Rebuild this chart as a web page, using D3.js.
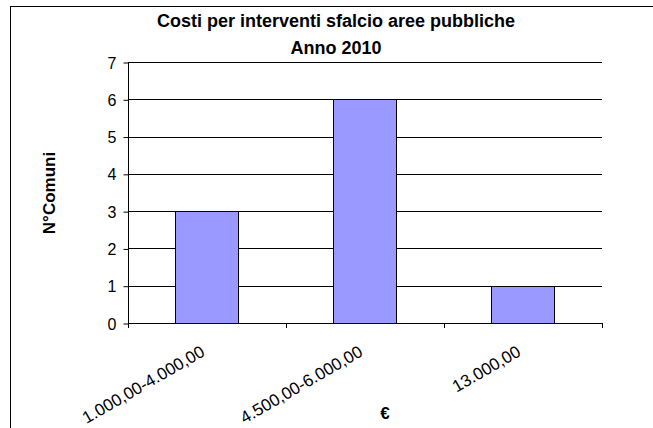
<!DOCTYPE html>
<html>
<head>
<meta charset="utf-8">
<script src="https://cdn.jsdelivr.net/npm/d3@7"></script>
<style>
  body { margin: 0; background: #fff; }
  svg { font-family: "Liberation Sans", Arial, sans-serif; display: block; }
</style>
</head>
<body>
<div id="chart"></div>
<script>
var categories = ["1.000,00-4.000,00", "4.500,00-6.000,00", "13.000,00"];
var comuni = [3, 6, 1];
var yTicks = [0, 1, 2, 3, 4, 5, 6, 7];
var titleLines = ["Costi per interventi sfalcio aree pubbliche", "Anno 2010"];

var W = 653, H = 428;
var plotLeft = 128, plotRight = 602, plotTop = 62, plotBottom = 323;

var svg = d3.select("#chart").append("svg").attr("width", W).attr("height", H);

// outer chart border (runs off the right and bottom edges)
svg.append("rect")
  .attr("x", 10.5).attr("y", 6.5)
  .attr("width", 700).attr("height", 500)
  .style("fill", "none").style("stroke", "#000").style("stroke-width", "1px");

var x = d3.scaleBand().domain(categories).range([plotLeft, plotRight])
  .paddingInner(0.6).paddingOuter(0.3);
var y = d3.scaleLinear().domain([0, 7]).range([plotBottom, plotTop]);

// gridlines
svg.selectAll("line.grid").data(yTicks.slice(1)).enter().append("line")
  .attr("class", "grid")
  .attr("x1", plotLeft).attr("x2", plotRight)
  .attr("y1", function(d){ return Math.round(y(d)) + 0.5; })
  .attr("y2", function(d){ return Math.round(y(d)) + 0.5; })
  .style("stroke", "#000").style("stroke-width", "1px");

// bars
svg.selectAll("rect.bar").data(comuni).enter().append("rect")
  .attr("class", "bar")
  .attr("x", function(d, i){ return Math.round(x(categories[i])) + 0.5; })
  .attr("y", function(d){ return Math.round(y(d)) + 0.5; })
  .attr("width", Math.round(x.bandwidth()))
  .attr("height", function(d){ return Math.round(y(0)) - Math.round(y(d)); })
  .style("fill", "#9999FF").style("stroke", "#000").style("stroke-width", "1px");

// y axis
var yAxis = svg.append("g")
  .attr("transform", "translate(" + (plotLeft + 0.5) + ",0.5)")
  .call(d3.axisLeft(y).tickValues(yTicks).tickSize(5).tickPadding(7).tickFormat(d3.format("d")));
yAxis.select(".domain").attr("d", "M0," + Math.round(plotTop) + "V" + Math.round(plotBottom));
yAxis.selectAll("text").style("font-size", "16px").style("fill", "#000").attr("dy", "0.35em");
yAxis.selectAll("line").style("stroke", "#000");
yAxis.select(".domain").style("stroke", "#000");

// x axis line and boundary ticks
var step = x.step();
var bounds = categories.map(function(c){ return x(c) - step * x.paddingOuter(); });
bounds.push(plotRight);
svg.append("line")
  .attr("x1", plotLeft).attr("x2", plotRight)
  .attr("y1", plotBottom + 0.5).attr("y2", plotBottom + 0.5)
  .style("stroke", "#000").style("stroke-width", "1px");
svg.selectAll("line.xtick").data(bounds).enter().append("line")
  .attr("class", "xtick")
  .attr("x1", function(d){ return Math.round(d) + 0.5; })
  .attr("x2", function(d){ return Math.round(d) + 0.5; })
  .attr("y1", plotBottom).attr("y2", plotBottom + 5)
  .style("stroke", "#000");

// rotated category labels
svg.selectAll("text.xlab").data(categories).enter().append("text")
  .attr("class", "xlab")
  .attr("transform", function(d){
    return "translate(" + (x(d) + x.bandwidth() / 2 - 1) + "," + (plotBottom + 32) + ") rotate(-30)";
  })
  .attr("text-anchor", "end")
  .style("font-size", "17px")
  .text(function(d){ return d; });

// title
svg.selectAll("text.title").data(titleLines).enter().append("text")
  .attr("class", "title")
  .attr("x", 336)
  .attr("y", function(d, i){ return 27 + i * 27; })
  .attr("text-anchor", "middle")
  .style("font-size", "18px").style("font-weight", "bold")
  .text(function(d){ return d; });

// axis titles
svg.append("text")
  .attr("transform", "translate(55,193) rotate(-90)")
  .attr("text-anchor", "middle")
  .style("font-size", "17px").style("font-weight", "bold")
  .text("N°Comuni");

svg.append("text")
  .attr("x", 385).attr("y", 419)
  .attr("text-anchor", "middle")
  .style("font-size", "17px").style("font-weight", "bold")
  .text("€");
</script>
</body>
</html>
